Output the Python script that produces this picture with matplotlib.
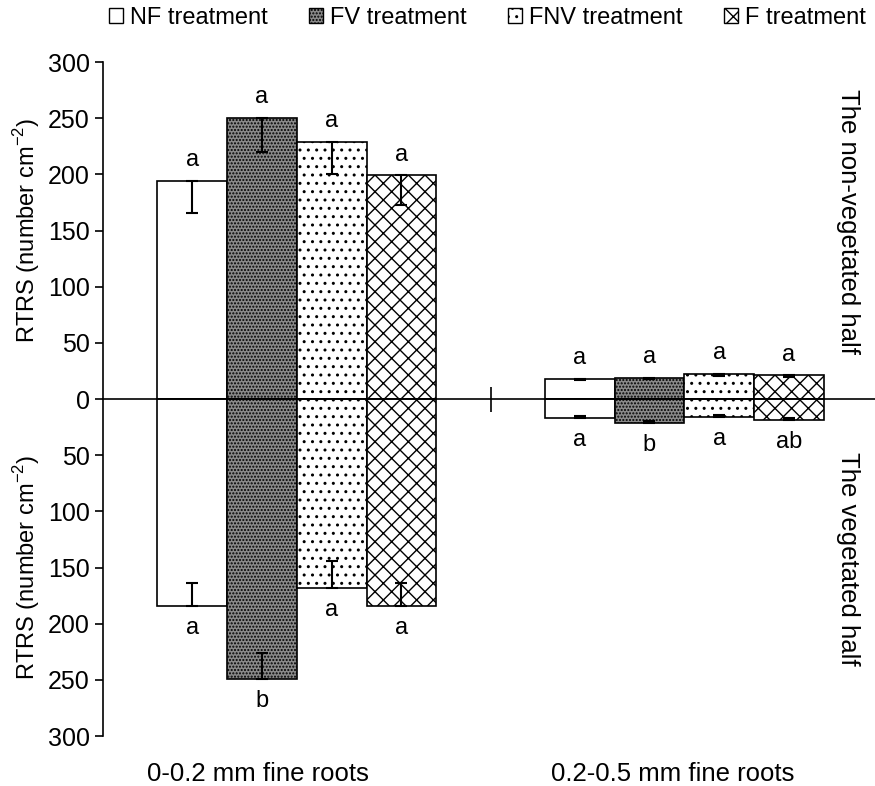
import numpy as np
import matplotlib.pyplot as plt
import matplotlib.transforms as mtransforms
from matplotlib.patches import Patch
from matplotlib.ticker import FuncFormatter

plt.rcParams['font.family'] = ['Liberation Sans', 'DejaVu Sans']
plt.rcParams['mathtext.fontset'] = 'custom'
plt.rcParams['mathtext.rm'] = 'Liberation Sans'
plt.rcParams['hatch.linewidth'] = 1.0

groups = ['0-0.2 mm fine roots', '0.2-0.5 mm fine roots']
treatments = ['NF treatment', 'FV treatment', 'FNV treatment', 'F treatment']

# the non-vegetated half (drawn upward)
nf_up = [194, 18]
fv_up = [250, 19]
fnv_up = [229, 22]
f_up = [199, 21]
nf_up_err = [28, 1.5]
fv_up_err = [30, 1.5]
fnv_up_err = [29, 1.5]
f_up_err = [26, 1.5]

# the vegetated half (drawn downward)
nf_down = [184, 16.5]
fv_down = [249, 21]
fnv_down = [168, 16]
f_down = [184, 18.5]
nf_down_err = [20, 1.5]
fv_down_err = [23, 1.5]
fnv_down_err = [24, 1.5]
f_down_err = [20, 1.5]

up_letters = [['a', 'a'], ['a', 'a'], ['a', 'a'], ['a', 'a']]
down_letters = [['a', 'a'], ['b', 'b'], ['a', 'a'], ['a', 'ab']]

up_vals = [nf_up, fv_up, fnv_up, f_up]
up_errs = [nf_up_err, fv_up_err, fnv_up_err, f_up_err]
down_vals = [nf_down, fv_down, fnv_down, f_down]
down_errs = [nf_down_err, fv_down_err, fnv_down_err, f_down_err]

styles = [
    dict(facecolor='white', hatch=None),
    dict(facecolor='#8a8a8a', hatch='.....'),
    dict(facecolor='white', hatch='..'),
    dict(facecolor='white', hatch='xx'),
]

FS = 17
fig = plt.figure(figsize=(8.75, 7.86), dpi=100)
ax = fig.add_axes([103 / 875, 50 / 786, 775 / 875, 674 / 786])

x = np.arange(len(groups))
w = 0.18
for i in range(len(treatments)):
    pos = x + (i - 1.5) * w
    up = np.array(up_vals[i])
    down = -np.array(down_vals[i])
    ax.bar(pos, up, w, edgecolor='black', linewidth=1.2, **styles[i])
    ax.bar(pos, down, w, edgecolor='black', linewidth=1.2, **styles[i])
    # errors drawn toward the zero line only
    ue = np.array(up_errs[i])
    de = np.array(down_errs[i])
    ax.errorbar(pos, up, yerr=[ue, np.zeros_like(ue)], fmt='none', ecolor='black',
                elinewidth=1.5, capsize=4.5, capthick=1.5)
    ax.errorbar(pos, down, yerr=[np.zeros_like(de), de], fmt='none', ecolor='black',
                elinewidth=1.5, capsize=4.5, capthick=1.5)
    for j in range(len(groups)):
        ax.annotate(up_letters[i][j], (pos[j], up[j]), xytext=(0, 15),
                    textcoords='offset points', ha='center', va='center', fontsize=FS)
        ax.annotate(down_letters[i][j], (pos[j], down[j]), xytext=(0, -16),
                    textcoords='offset points', ha='center', va='center', fontsize=FS)

ax.set_xlim(-0.5, 1.5)
ax.set_ylim(-300, 300)
ax.set_yticks(np.arange(-300, 301, 50))
ax.yaxis.set_major_formatter(FuncFormatter(lambda v, p: f'{abs(v):.0f}'))
ax.tick_params(axis='y', direction='out', length=6, width=1.2, labelsize=18)

ax.spines['top'].set_visible(False)
ax.spines['right'].set_visible(False)
ax.spines['left'].set_linewidth(1.2)
ax.spines['bottom'].set_position(('data', 0))
ax.spines['bottom'].set_linewidth(1.2)
ax.set_xticks([])
ax.set_xticks([0.5], minor=True)
ax.tick_params(axis='x', which='minor', direction='inout', length=18, width=1.2)

trans = mtransforms.blended_transform_factory(ax.transData, ax.transAxes)
shift = [-0.1, -0.03]
for i, g in enumerate(groups):
    ax.text(x[i] + shift[i], -0.057, g, transform=trans, ha='center', va='center', fontsize=18.5)

ylab = 'RTRS (number cm$^{\\mathregular{-2}}$)'
ytrans = mtransforms.blended_transform_factory(fig.transFigure, ax.transData)
ax.text(27 / 875, 150, ylab, transform=ytrans, rotation=90,
        ha='center', va='center', fontsize=FS)
ax.text(27 / 875, -150, ylab, transform=ytrans, rotation=90,
        ha='center', va='center', fontsize=FS)
ax.text(848 / 875, 158, 'The non-vegetated half', transform=ytrans, rotation=-90,
        ha='center', va='center', fontsize=18.5)
ax.text(848 / 875, -142, 'The vegetated half', transform=ytrans, rotation=-90,
        ha='center', va='center', fontsize=18.5)

handles = [Patch(edgecolor='black', linewidth=1.0, **s) for s in styles]
fig.legend(handles, treatments, loc='center', ncol=4, bbox_to_anchor=(0.557, 1 - 18 / 786),
           frameon=False, fontsize=FS, handlelength=0.6, handleheight=0.6,
           handletextpad=0.3, columnspacing=1.75)

fig.savefig('out.png', dpi=100)
